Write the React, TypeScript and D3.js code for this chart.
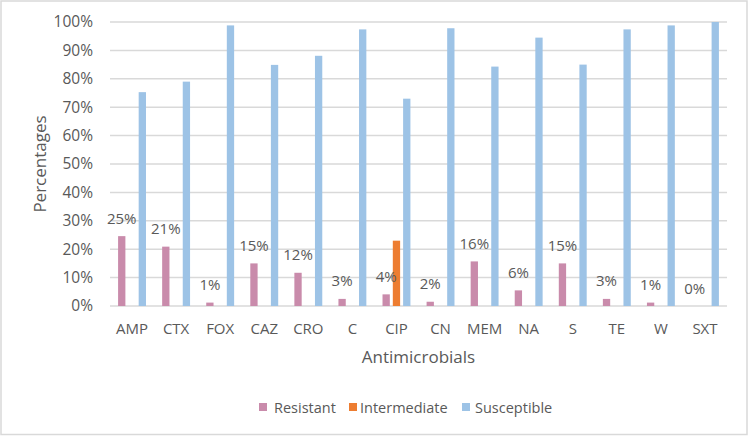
import React, { useEffect } from "react";
import * as d3 from "d3";

const categories = ["AMP", "CTX", "FOX", "CAZ", "CRO", "C", "CIP", "CN", "MEM", "NA", "S", "TE", "W", "SXT"];
const resistant = [24.6, 20.9, 1.2, 15.0, 11.7, 2.5, 4.1, 1.5, 15.7, 5.5, 15.0, 2.5, 1.2, 0];
const intermediate = [0, 0, 0, 0, 0, 0, 23.0, 0, 0, 0, 0, 0, 0, 0];
const susceptible = [75.3, 79.0, 98.8, 84.9, 88.1, 97.4, 73.0, 97.8, 84.3, 94.5, 85.0, 97.4, 98.8, 100];
const resistantLabels = ["25%", "21%", "1%", "15%", "12%", "3%", "4%", "2%", "16%", "6%", "15%", "3%", "1%", "0%"];
const seriesNames = ["Resistant", "Intermediate", "Susceptible"];
const seriesColors = ["#c98bab", "#ed7d31", "#9dc3e6"];
const yTicks = [0, 10, 20, 30, 40, 50, 60, 70, 80, 90, 100];

const W = 749;
const H = 438;
const FONT = "'Open Sans', sans-serif";
const TEXT = "#595959";

export default function App() {
  useEffect(() => {
    document.body.style.margin = "0";
  }, []);

  const left = 110, right = 727, top = 22, bottom = 306;
  const x0 = d3.scaleBand<string>().domain(categories).range([left, right]).padding(0);
  const groupW = 27.9;
  const x1 = d3
    .scaleBand<string>()
    .domain(seriesNames)
    .range([(x0.bandwidth() - groupW) / 2, (x0.bandwidth() + groupW) / 2])
    .paddingInner(0.29)
    .paddingOuter(0);
  const y = d3.scaleLinear().domain([0, 100]).range([bottom, top]);

  const seriesData = [resistant, intermediate, susceptible];

  const legendItems = [
    { name: "Resistant", sx: 259, tx: 274 },
    { name: "Intermediate", sx: 349, tx: 360 },
    { name: "Susceptible", sx: 462, tx: 475 },
  ];

  return (
    <svg width={W} height={H} style={{ display: "block", fontFamily: FONT }}>
      <rect x={0} y={0} width={W} height={H} fill="#ffffff" />
      <rect x={1} y={1} width={746} height={433.5} fill="none" stroke="#d9d9d9" strokeWidth={1.5} />
      {yTicks.map((t) => (
        <g key={t}>
          <line x1={left} x2={right} y1={y(t)} y2={y(t)} stroke="#d9d9d9" strokeWidth={1.5} />
          <text x={93} y={y(t)} dy="0.35em" textAnchor="end" fontSize={15.5} fill={TEXT}>
            {t}%
          </text>
        </g>
      ))}
      {seriesData.map((vals, si) =>
        vals.map((v, ci) =>
          v > 0 ? (
            <rect
              key={`${si}-${ci}`}
              x={(x0(categories[ci]) as number) + (x1(seriesNames[si]) as number)}
              y={y(v)}
              width={x1.bandwidth()}
              height={y(0) - y(v)}
              fill={seriesColors[si]}
            />
          ) : null
        )
      )}
      {resistant.map((v, ci) => (
        <text
          key={`l-${ci}`}
          x={(x0(categories[ci]) as number) + (x1("Resistant") as number) + x1.bandwidth() / 2}
          y={y(v) - 12.5}
          textAnchor="middle"
          fontSize={15}
          fill={TEXT}
        >
          {resistantLabels[ci]}
        </text>
      ))}
      {categories.map((c) => (
        <text
          key={`c-${c}`}
          x={(x0(c) as number) + x0.bandwidth() / 2}
          y={333.5}
          textAnchor="middle"
          fontSize={15}
          fill={TEXT}
        >
          {c}
        </text>
      ))}
      <text x={(left + right) / 2} y={363} textAnchor="middle" fontSize={17} fill={TEXT}>
        Antimicrobials
      </text>
      <text
        transform={`translate(46,${(top + bottom) / 2}) rotate(-90)`}
        textAnchor="middle"
        fontSize={17}
        fill={TEXT}
      >
        Percentages
      </text>
      {legendItems.map((it, i) => (
        <g key={it.name}>
          <rect x={it.sx} y={403} width={8} height={8} fill={seriesColors[i]} />
          <text x={it.tx} y={412.5} fontSize={14.5} fill={TEXT}>
            {it.name}
          </text>
        </g>
      ))}
    </svg>
  );
}
